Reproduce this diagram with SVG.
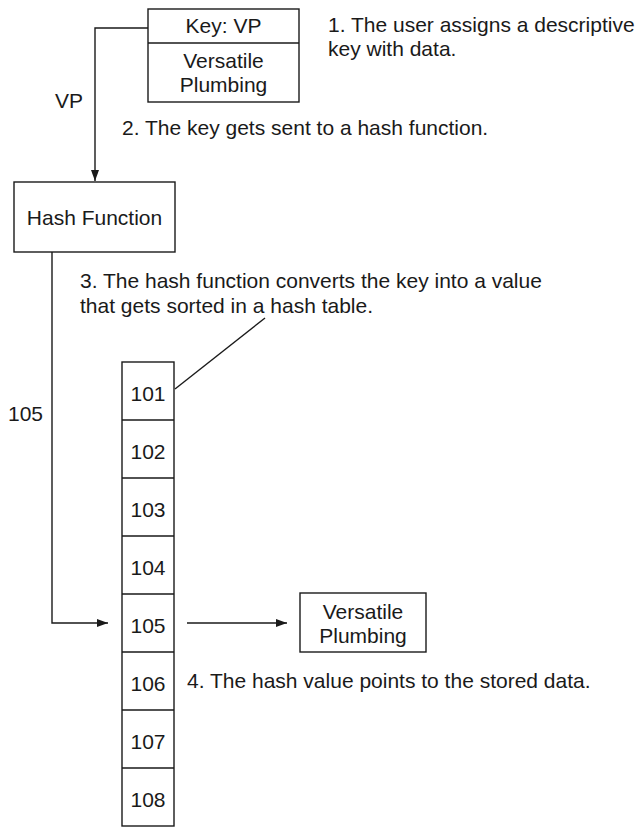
<svg xmlns="http://www.w3.org/2000/svg" width="642" height="828" viewBox="0 0 642 828">
<defs>
<style>
text{font-family:"Liberation Sans",Arial,sans-serif;font-size:21px;fill:#1a1a1a}
.c{text-anchor:middle}
.box{fill:#fff;stroke:#1a1a1a;stroke-width:1.4}
.ln{fill:none;stroke:#1a1a1a;stroke-width:1.4}
</style>
<marker id="ah" viewBox="0 0 11 8" refX="11" refY="4" markerWidth="11" markerHeight="8" markerUnits="userSpaceOnUse" orient="auto">
<path d="M0,0 L11,4 L0,8 Z" fill="#1a1a1a"/>
</marker>
</defs>
<rect width="642" height="828" fill="#fff"/>
<g id="connectors">
<polyline class="ln" points="148,28 95,28 95,181" marker-end="url(#ah)"/>
<polyline class="ln" points="52,252 52,623 108,623" marker-end="url(#ah)"/>
<line class="ln" x1="187" y1="623" x2="287" y2="623" marker-end="url(#ah)"/>
<line class="ln" x1="175" y1="389" x2="265" y2="318"/>
</g>
<g id="key">
<rect class="box" x="148" y="9" width="151" height="93"/>
<line class="ln" x1="148" y1="43" x2="299" y2="43"/>
<text class="c" x="223.5" y="33">Key: VP</text>
<text class="c" x="223.5" y="68">Versatile</text>
<text class="c" x="223.5" y="92">Plumbing</text>
</g>
<g id="hash">
<rect class="box" x="14" y="182" width="161" height="70"/>
<text class="c" x="94.5" y="225">Hash Function</text>
</g>
<g id="table">
<rect class="box" x="122" y="362" width="52" height="464"/>
<path class="ln" d="M122,420H174M122,478H174M122,536H174M122,594H174M122,652H174M122,710H174M122,768H174"/>
<text class="c" x="148" y="401">101</text>
<text class="c" x="148" y="459">102</text>
<text class="c" x="148" y="517">103</text>
<text class="c" x="148" y="575">104</text>
<text class="c" x="148" y="633">105</text>
<text class="c" x="148" y="691">106</text>
<text class="c" x="148" y="749">107</text>
<text class="c" x="148" y="807">108</text>
</g>
<g id="data">
<rect class="box" x="300" y="593" width="126" height="59"/>
<text class="c" x="363" y="619">Versatile</text>
<text class="c" x="363" y="643">Plumbing</text>
</g>
<g id="labels">
<text x="328" y="32">1. The user assigns a descriptive</text>
<text x="328" y="56">key with data.</text>
<text x="55" y="108">VP</text>
<text x="122" y="135">2. The key gets sent to a hash function.</text>
<text x="80" y="288">3. The hash function converts the key into a value</text>
<text x="80" y="313">that gets sorted in a hash table.</text>
<text x="8" y="421">105</text>
<text x="187" y="688">4. The hash value points to the stored data.</text>
</g>
</svg>
